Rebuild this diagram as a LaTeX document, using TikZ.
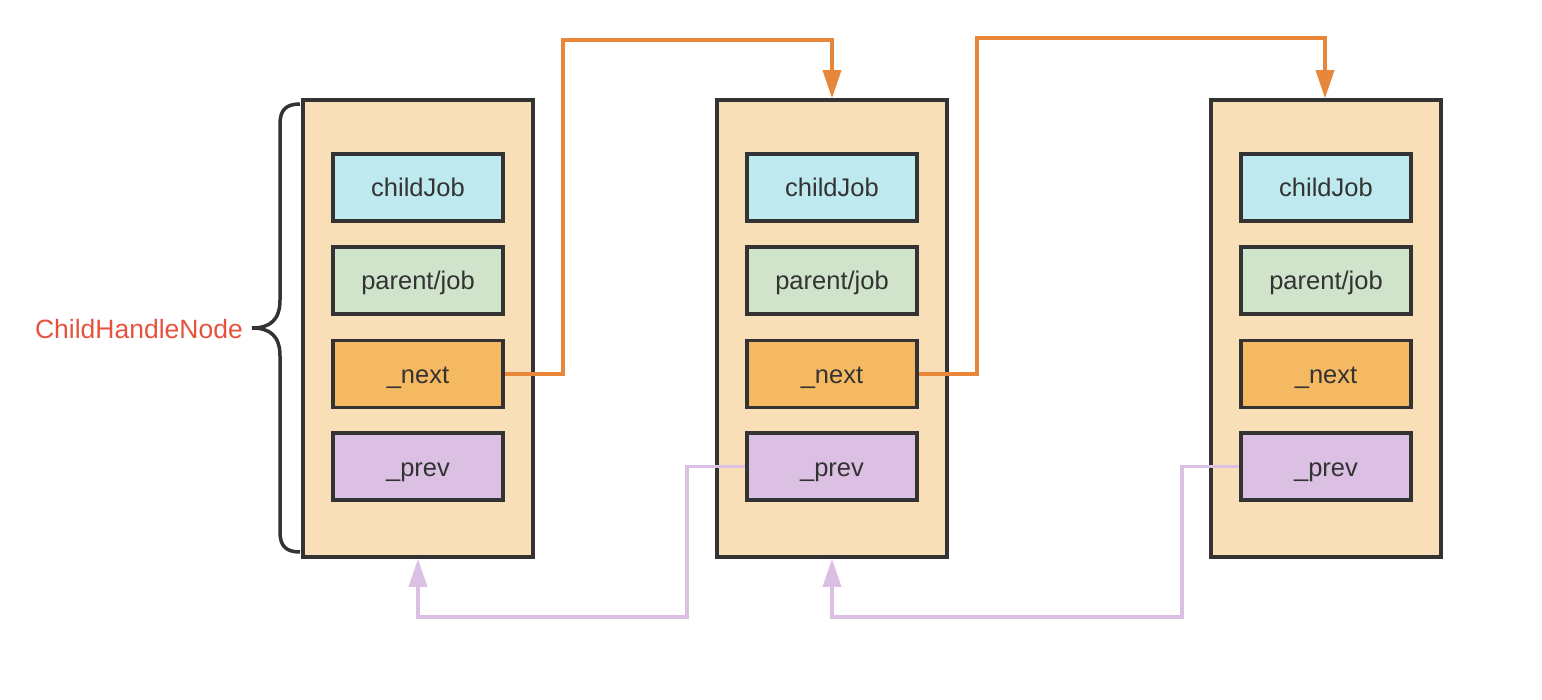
\documentclass[tikz,border=0pt]{standalone}
\usepackage{fontspec}
\setmainfont{Liberation Sans}
\usetikzlibrary{arrows.meta}
\definecolor{cont}{HTML}{F8DFB8}
\definecolor{cjob}{HTML}{BEE9EF}
\definecolor{pjob}{HTML}{CFE4CB}
\definecolor{nxt}{HTML}{F5B961}
\definecolor{prv}{HTML}{DBC0E3}
\definecolor{oline}{HTML}{E8873A}
\definecolor{pline}{HTML}{DBC0E3}
\definecolor{dark}{HTML}{333333}
\definecolor{lbl}{HTML}{E5533F}
\begin{document}
\begin{tikzpicture}[x=1pt,y=-1pt,
  container/.style={draw=dark,line width=3.5pt,fill=cont,minimum width=230pt,minimum height=457pt,inner sep=0pt},
  field/.style={draw=dark,line width=3.5pt,minimum width=170pt,minimum height=67pt,inner sep=0pt,text=dark,font=\fontsize{25.5}{29}\selectfont,text height=21pt,text depth=2pt},
  nextlink/.style={draw=oline,line width=3.5pt,-{Triangle[width=18pt,length=28pt]}},
  prevlink/.style={draw=pline,line width=3.5pt,-{Triangle[width=18pt,length=28pt]}}]
\useasboundingbox (0,0) rectangle (1542,700);
\foreach \i/\x in {1/418,2/832,3/1326}{
  \node[container] (c\i) at (\x,328.5) {};
  \node[field,fill=cjob] (cj\i) at (\x,187.5) {childJob};
  \node[field,fill=pjob] (pj\i) at (\x,280.5) {parent/job};
  \node[field,fill=nxt] (nx\i) at (\x,374) {\_next};
  \node[field,fill=prv] (pv\i) at (\x,466.5) {\_prev};
}
% next links
\draw[nextlink] (nx1.east) -| (563,40) -| (c2.north);
\draw[nextlink] (nx2.east) -| (977,38) -| ([xshift=-1pt]c3.north);
% prev links
\draw[prevlink] (pv2.west) -| (687,617) -| (c1.south);
\draw[prevlink] (pv3.west) -| (1182,617) -| (c2.south);
% brace
\coordinate (bt) at (300,104);
\coordinate (bb) at (300,552);
\coordinate (tip) at (252,328);
\draw[dark,line width=3.5pt] (bt) .. controls (286,104) and (280,110) .. (280,124)
  -- (280,300) .. controls (280,320) and (270,328) .. (tip)
  .. controls (270,328) and (280,336) .. (280,356)
  -- (280,532) .. controls (280,546) and (286,552) .. (bb);
\node[anchor=east,text=lbl,font=\fontsize{26.5}{30}\selectfont,inner sep=0pt] (label) at (243,329) {ChildHandleNode};
\end{tikzpicture}
\end{document}
